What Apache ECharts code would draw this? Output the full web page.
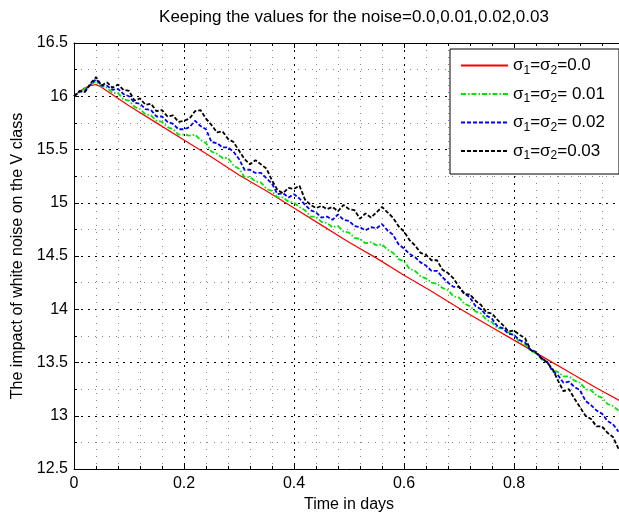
<!DOCTYPE html>
<html>
<head>
<meta charset="utf-8">
<script src="https://cdn.jsdelivr.net/npm/echarts@6/dist/echarts.min.js"></script>
<style>
  html, body { margin: 0; padding: 0; background: #fff; }
  #chart { width: 619px; height: 513px; }
</style>
</head>
<body>
<div id="chart"></div>
<script>
// 时间 (days)
var days = [
  0.00, 0.01, 0.02, 0.03, 0.04, 0.05, 0.06, 0.07, 0.08, 0.09,
  0.10, 0.11, 0.12, 0.13, 0.14, 0.15, 0.16, 0.17, 0.18, 0.19,
  0.20, 0.21, 0.22, 0.23, 0.24, 0.25, 0.26, 0.27, 0.28, 0.29,
  0.30, 0.31, 0.32, 0.33, 0.34, 0.35, 0.36, 0.37, 0.38, 0.39,
  0.40, 0.41, 0.42, 0.43, 0.44, 0.45, 0.46, 0.47, 0.48, 0.49,
  0.50, 0.51, 0.52, 0.53, 0.54, 0.55, 0.56, 0.57, 0.58, 0.59,
  0.60, 0.61, 0.62, 0.63, 0.64, 0.65, 0.66, 0.67, 0.68, 0.69,
  0.70, 0.71, 0.72, 0.73, 0.74, 0.75, 0.76, 0.77, 0.78, 0.79,
  0.80, 0.81, 0.82, 0.83, 0.84, 0.85, 0.86, 0.87, 0.88, 0.89,
  0.90, 0.91, 0.92, 0.93, 0.94, 0.95, 0.96, 0.97, 0.98, 0.99
];

// sigma = 0.0 (deterministic)
var redDays = [0, 0.01, 0.02, 0.03, 0.04, 0.05, 0.06, 0.10, 0.15, 0.20, 0.25, 0.30, 0.35,
  0.40, 0.45, 0.50, 0.55, 0.60, 0.65, 0.70, 0.75, 0.80, 0.85, 0.90, 0.95, 1.00];
var noise00 = [16.00, 16.045, 16.08, 16.10, 16.11, 16.085, 16.05, 15.91, 15.75, 15.59, 15.43, 15.26, 15.11,
  14.95, 14.79, 14.63, 14.48, 14.32, 14.17, 14.01, 13.86, 13.71, 13.56, 13.41, 13.26, 13.12];

// sigma = 0.01
var noise01 = [
  16.00, 16.04, 16.07, 16.11, 16.14, 16.09, 16.08, 16.03, 16.03, 15.97,
  15.96, 15.90, 15.88, 15.83, 15.82, 15.77, 15.76, 15.71, 15.69, 15.64,
  15.64, 15.63, 15.64, 15.59, 15.56, 15.48, 15.46, 15.42, 15.42, 15.35,
  15.32, 15.24, 15.24, 15.20, 15.19, 15.13, 15.11, 15.05, 15.05, 15.01,
  15.00, 14.96, 14.93, 14.87, 14.87, 14.82, 14.81, 14.77, 14.78, 14.73,
  14.72, 14.67, 14.66, 14.62, 14.63, 14.60, 14.61, 14.56, 14.53, 14.47,
  14.45, 14.38, 14.36, 14.31, 14.29, 14.25, 14.24, 14.20, 14.18, 14.12,
  14.11, 14.05, 14.03, 13.98, 13.96, 13.90, 13.88, 13.82, 13.82, 13.78,
  13.76, 13.69, 13.67, 13.61, 13.59, 13.53, 13.51, 13.43, 13.41, 13.37,
  13.37, 13.33, 13.31, 13.25, 13.24, 13.19, 13.17, 13.11, 13.09, 13.05
];

// sigma = 0.02
var noise02 = [
  16.00, 16.04, 16.05, 16.11, 16.16, 16.10, 16.10, 16.06, 16.07, 16.02,
  16.00, 15.94, 15.93, 15.88, 15.87, 15.81, 15.81, 15.76, 15.74, 15.69,
  15.69, 15.71, 15.77, 15.72, 15.69, 15.57, 15.56, 15.52, 15.52, 15.48,
  15.41, 15.31, 15.31, 15.28, 15.28, 15.23, 15.18, 15.08, 15.09, 15.05,
  15.08, 15.04, 14.98, 14.93, 14.91, 14.86, 14.87, 14.84, 14.89, 14.84,
  14.83, 14.78, 14.77, 14.74, 14.77, 14.76, 14.80, 14.74, 14.70, 14.61,
  14.57, 14.52, 14.49, 14.44, 14.41, 14.36, 14.36, 14.30, 14.25, 14.21,
  14.21, 14.15, 14.11, 14.03, 14.00, 13.94, 13.91, 13.84, 13.82, 13.77,
  13.76, 13.71, 13.69, 13.62, 13.60, 13.54, 13.51, 13.42, 13.38, 13.31,
  13.32, 13.27, 13.24, 13.14, 13.10, 13.05, 13.02, 12.95, 12.92, 12.85
];

// sigma = 0.03
var noise03 = [
  16.00, 16.05, 16.04, 16.12, 16.18, 16.10, 16.13, 16.08, 16.11, 16.06,
  16.05, 15.96, 15.98, 15.92, 15.93, 15.86, 15.87, 15.81, 15.82, 15.76,
  15.77, 15.79, 15.86, 15.87, 15.79, 15.73, 15.66, 15.67, 15.60, 15.57,
  15.49, 15.41, 15.36, 15.40, 15.36, 15.32, 15.21, 15.12, 15.09, 15.14,
  15.13, 15.16, 15.03, 14.98, 14.95, 14.97, 14.94, 14.96, 14.92, 14.98,
  14.94, 14.93, 14.85, 14.90, 14.86, 14.91, 14.96, 14.91, 14.86, 14.78,
  14.73, 14.65, 14.60, 14.53, 14.51, 14.46, 14.46, 14.37, 14.34, 14.29,
  14.21, 14.14, 14.14, 14.08, 14.04, 13.97, 13.96, 13.90, 13.85, 13.79,
  13.80, 13.76, 13.73, 13.62, 13.59, 13.54, 13.50, 13.44, 13.33, 13.23,
  13.25, 13.16, 13.08, 13.00, 12.97, 12.90, 12.90, 12.84, 12.80, 12.69
];

var seriesNames = ["σ1=σ2=0.0", "σ1=σ2= 0.01", "σ1=σ2= 0.02", "σ1=σ2=0.03"];

var fontFamily = "'Liberation Sans', Arial, sans-serif";

function pairs(xs, ys) {
  return xs.map(function (x, i) { return [x, ys[i]]; });
}

var chart = echarts.init(document.getElementById("chart"));

var option = {
  animation: false,
  backgroundColor: "#fff",
  textStyle: { fontFamily: fontFamily },
  title: {
    text: "Keeping the values for the noise=0.0,0.01,0.02,0.03",
    left: 349,
    textAlign: "center",
    top: 4,
    textStyle: { fontSize: 17, fontWeight: "normal", color: "#000", fontFamily: fontFamily }
  },
  grid: { left: 74, right: -5, top: 43, bottom: 44, outerBoundsMode: "none", containLabel: false },
  legend: {
    orient: "vertical",
    left: 450,
    top: 49,
    padding: [8, 14, 12, 10],
    itemGap: 9,
    itemWidth: 47,
    itemHeight: 14,
    backgroundColor: "#fff",
    borderColor: "#000",
    borderWidth: 1,
    borderRadius: 0,
    itemStyle: { opacity: 0 },
    data: seriesNames,
    formatter: function (name) {
      return "{t|" + name.replace(/σ(\d)/g, "σ}{sub|$1}{t|") + "}";
    },
    textStyle: {
      color: "#000",
      rich: {
        t: { fontSize: 17, lineHeight: 22, fontFamily: fontFamily, color: "#000" },
        sub: { fontSize: 12, lineHeight: 12, verticalAlign: "bottom", fontFamily: fontFamily, color: "#000" }
      }
    }
  },
  xAxis: [
    {
      type: "value",
      min: 0,
      max: 1,
      interval: 0.2,
      name: "Time in days",
      nameLocation: "middle",
      nameGap: 26,
      nameTextStyle: { fontSize: 16, color: "#000", fontFamily: fontFamily },
      axisLine: { show: true, lineStyle: { color: "#000", width: 1 } },
      axisTick: { show: true, inside: true, length: 5, lineStyle: { color: "#000" } },
      minorTick: { show: true, splitNumber: 5, length: 3, lineStyle: { color: "#000" } },
      axisLabel: { fontSize: 16, color: "#000", margin: 7, fontFamily: fontFamily },
      splitLine: { show: true, lineStyle: { color: "#000", width: 1, type: [2, 5] } },
      minorSplitLine: { show: true, lineStyle: { color: "#888", width: 1, type: [1, 6] } }
    },
    {
      type: "value",
      position: "top",
      min: 0,
      max: 1,
      interval: 0.2,
      axisLine: { show: true, lineStyle: { color: "#000", width: 1 } },
      axisTick: { show: true, inside: true, length: 5, lineStyle: { color: "#000" } },
      minorTick: { show: true, splitNumber: 5, length: 3, lineStyle: { color: "#000" } },
      axisLabel: { show: false },
      splitLine: { show: false }
    }
  ],
  yAxis: [
    {
      type: "value",
      min: 12.5,
      max: 16.5,
      interval: 0.5,
      name: "The impact of white noise on the V class",
      nameLocation: "middle",
      nameGap: 46,
      nameTextStyle: { fontSize: 16, color: "#000", fontFamily: fontFamily },
      axisLine: { show: true, lineStyle: { color: "#000", width: 1 } },
      axisTick: { show: true, inside: true, length: 5, lineStyle: { color: "#000" } },
      minorTick: { show: true, splitNumber: 2, length: 3, lineStyle: { color: "#000" } },
      axisLabel: { fontSize: 16, color: "#000", margin: 6, fontFamily: fontFamily },
      splitLine: { show: true, lineStyle: { color: "#000", width: 1, type: [2, 5] } },
      minorSplitLine: { show: true, lineStyle: { color: "#888", width: 1, type: [1, 6] } }
    }
  ],
  series: [
    {
      name: seriesNames[0],
      type: "line",
      symbol: "none",
      showSymbol: false,
      data: pairs(redDays, noise00),
      lineStyle: { color: "#ff0000", width: 1.2, type: "solid" },
      itemStyle: { color: "#ff0000" },
      z: 2
    },
    {
      name: seriesNames[1],
      type: "line",
      symbol: "none",
      showSymbol: false,
      data: pairs(days, noise01),
      lineStyle: { color: "#00e600", width: 1.8, type: [5, 2, 1.5, 2] },
      itemStyle: { color: "#00e600" },
      z: 3
    },
    {
      name: seriesNames[2],
      type: "line",
      symbol: "none",
      showSymbol: false,
      data: pairs(days, noise02),
      lineStyle: { color: "#0000ff", width: 1.8, type: [4, 2] },
      itemStyle: { color: "#0000ff" },
      z: 4
    },
    {
      name: seriesNames[3],
      type: "line",
      symbol: "none",
      showSymbol: false,
      data: pairs(days, noise03),
      lineStyle: { color: "#000000", width: 1.8, type: [4, 2] },
      itemStyle: { color: "#000000" },
      z: 5
    }
  ]
};

chart.setOption(option);
</script>
</body>
</html>
